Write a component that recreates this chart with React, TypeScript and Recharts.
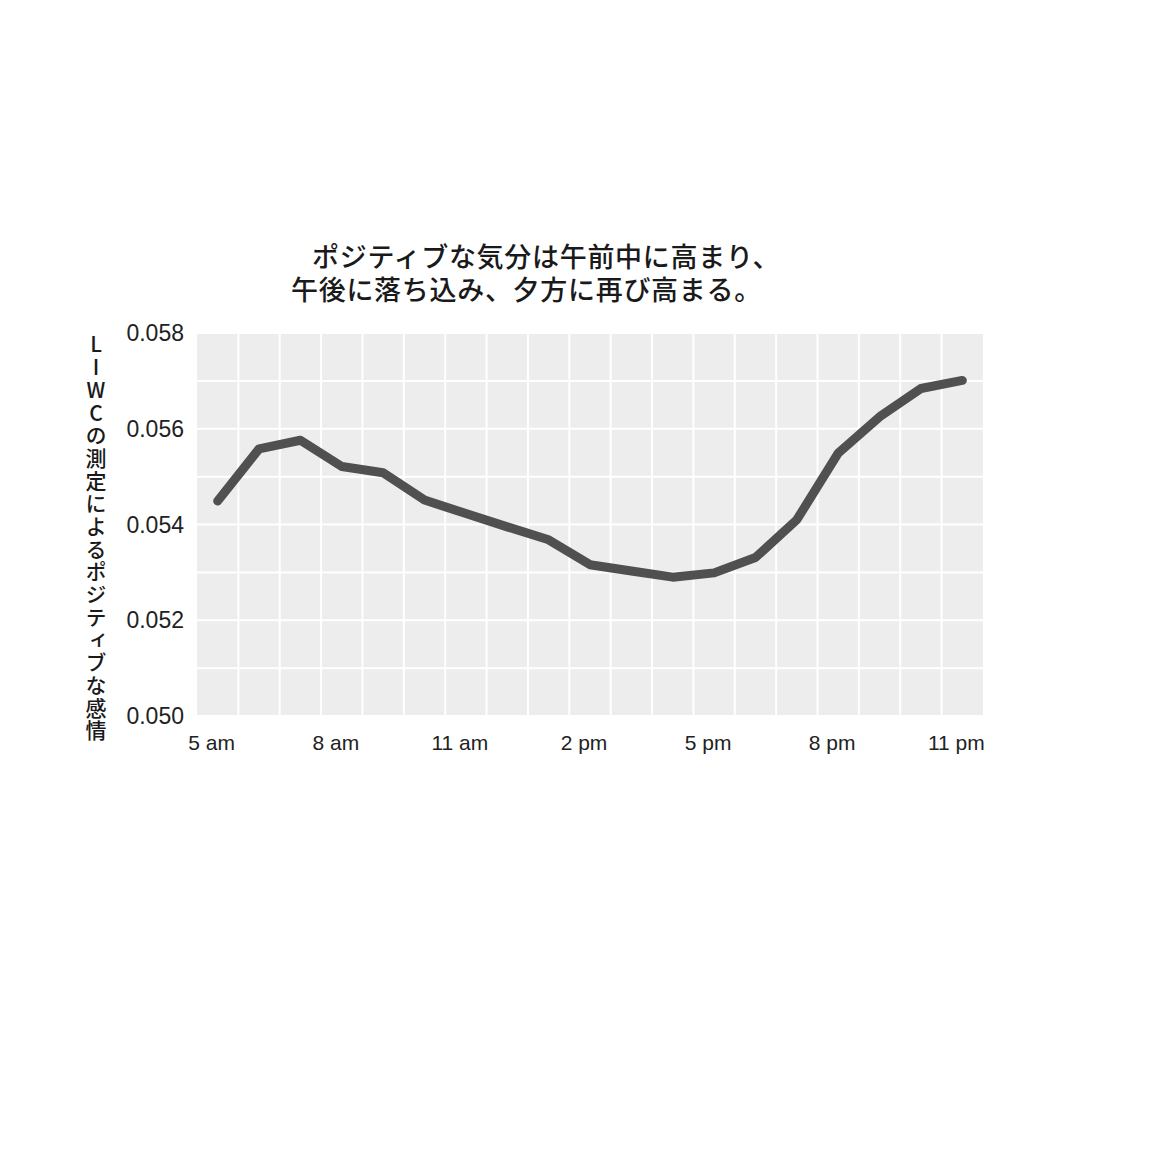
import React from "react";
import { LineChart, Line, XAxis, YAxis, CartesianGrid } from "recharts";

const titleLine1 = "ポジティブな気分は午前中に高まり、";
const titleLine2 = "午後に落ち込み、夕方に再び高まる。";
const yAxisTitle = "LIWCの測定によるポジティブな感情";

const hours = [5, 6, 7, 8, 9, 10, 11, 12, 13, 14, 15, 16, 17, 18, 19, 20, 21, 22, 23];
const positiveAffect = [
  0.05449, 0.05558, 0.05576, 0.05521, 0.05508, 0.05451, 0.05423, 0.05395, 0.05368,
  0.05316, 0.05303, 0.0529, 0.05299, 0.05331, 0.0541, 0.05549, 0.05625, 0.05684, 0.05701,
];

const xTickHours = [5, 8, 11, 14, 17, 20, 23];
const xTickLabels = ["5 am", "8 am", "11 am", "2 pm", "5 pm", "8 pm", "11 pm"];
const yTicks = [0.05, 0.052, 0.054, 0.056, 0.058];
const gridY = [0.05, 0.051, 0.052, 0.053, 0.054, 0.055, 0.056, 0.057, 0.058];
const gridX = [5.5, 6.5, 7.5, 8.5, 9.5, 10.5, 11.5, 12.5, 13.5, 14.5, 15.5, 16.5, 17.5, 18.5, 19.5, 20.5, 21.5, 22.5];
const xDomain = [4.5, 23.5];
const yDomain = [0.05, 0.058];

const data = hours.map((h, i) => ({ hour: h, value: positiveAffect[i] }));

const cjk = '"Noto Sans CJK JP", "Noto Sans CJK SC", sans-serif';
const latin = '"Liberation Sans", Arial, Helvetica, sans-serif';

export default function App() {
  return (
    <div style={{ position: "absolute", left: 0, top: 0, width: 1150, height: 1150, background: "#fff" }}>
      <div
        style={{
          position: "absolute",
          left: 291,
          top: 239,
          fontFamily: cjk,
          fontSize: 27,
          lineHeight: "33px",
          fontWeight: 500,
          letterSpacing: "0.7px",
          textIndent: 21,
          color: "#1a1a1a",
          whiteSpace: "nowrap",
        }}
      >
        {titleLine1}
        <br />
        {titleLine2}
      </div>
      <div
        style={{
          position: "absolute",
          left: 84,
          top: 334,
          width: 23,
          fontFamily: cjk,
          fontSize: 21,
          lineHeight: "23px",
          fontWeight: 500,
          letterSpacing: "1.7px",
          color: "#1a1a1a",
          writingMode: "vertical-rl",
          textOrientation: "upright",
          whiteSpace: "nowrap",
        }}
      >
        {yAxisTitle}
      </div>
      <div style={{ position: "absolute", left: 0, top: 0 }}>
        <LineChart
          width={1150}
          height={1150}
          data={data}
          margin={{ top: 333, right: 167, bottom: 384, left: 97 }}
        >
          <CartesianGrid
            fill="#ededed"
            stroke="#ffffff"
            strokeWidth={2}
            horizontalValues={gridY}
            verticalValues={gridX}
          />
          <XAxis
            dataKey="hour"
            type="number"
            domain={xDomain}
            ticks={xTickHours}
            tickFormatter={(v) => xTickLabels[xTickHours.indexOf(v)] ?? ""}
            axisLine={false}
            tickLine={false}
            tickSize={0}
            tickMargin={19}
            height={50}
            interval={0}
            tick={{ fill: "#222", fontSize: 21, fontFamily: latin, dx: -6 }}
          />
          <YAxis
            type="number"
            domain={yDomain}
            ticks={yTicks}
            tickFormatter={(v) => Number(v).toFixed(3)}
            axisLine={false}
            tickLine={false}
            tickSize={0}
            tickMargin={13}
            width={100}
            interval={0}
            tick={{ fill: "#222", fontSize: 23, fontFamily: latin }}
          />
          <Line
            type="linear"
            dataKey="value"
            stroke="#505050"
            strokeWidth={9}
            strokeLinecap="round"
            strokeLinejoin="round"
            dot={false}
            activeDot={false}
            isAnimationActive={false}
          />
        </LineChart>
      </div>
    </div>
  );
}
